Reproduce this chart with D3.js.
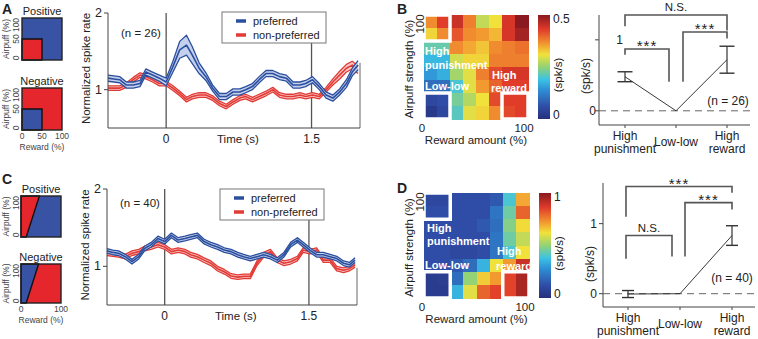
<!DOCTYPE html>
<html>
<head>
<meta charset="utf-8">
<script src="https://cdn.jsdelivr.net/npm/d3@7"></script>
<style>
  body { margin: 0; background: #fff; }
  text { font-family: "Liberation Sans", Arial, sans-serif; fill: #222; }
</style>
</head>
<body>
<svg id="fig" width="758" height="339"></svg>
<script>
// ---- data ----
const time = [-0.6, -0.54, -0.48, -0.41, -0.34, -0.27, -0.21, -0.14, -0.07, 0, 0.07, 0.14, 0.21, 0.27, 0.34, 0.41, 0.48, 0.55, 0.62, 0.69,
  0.76, 0.82, 0.89, 0.96, 1.03, 1.1, 1.17, 1.24, 1.31, 1.38, 1.44, 1.51, 1.58, 1.65, 1.72, 1.79, 1.86, 1.92, 1.98];
const eventTimes = [0, 1.5];

const prefA = [1.15, 1.14, 1.13, 1.06, 1.06, 1.08, 1.23, 1.19, 1.15, 1.10, 1.30, 1.52, 1.58, 1.45, 1.28, 1.17, 1.02, 0.91, 0.91, 0.97,
  0.97, 1.00, 1.04, 1.13, 1.21, 1.21, 1.17, 1.15, 1.06, 1.06, 1.08, 1.13, 1.04, 0.93, 0.89, 0.97, 1.08, 1.23, 1.32];
const prefSemA = [0.04, 0.04, 0.04, 0.04, 0.04, 0.04, 0.04, 0.04, 0.04, 0.05, 0.07, 0.11, 0.13, 0.11, 0.07, 0.05, 0.04, 0.04, 0.04, 0.04,
  0.04, 0.04, 0.04, 0.04, 0.04, 0.04, 0.04, 0.04, 0.04, 0.04, 0.04, 0.04, 0.04, 0.04, 0.04, 0.04, 0.05, 0.05, 0.06];
const nonA = [1.02, 1.02, 1.02, 1.06, 1.13, 1.19, 1.17, 1.13, 1.08, 1.08, 1.02, 0.95, 0.87, 0.91, 0.93, 0.93, 0.89, 0.82, 0.78, 0.84,
  0.89, 0.91, 0.87, 0.91, 0.95, 1.00, 0.93, 0.91, 0.91, 0.93, 0.91, 0.93, 0.91, 1.00, 1.10, 1.19, 1.28, 1.32, 1.26];
const nonSemA = [0.03, 0.03, 0.03, 0.03, 0.03, 0.03, 0.03, 0.03, 0.03, 0.03, 0.03, 0.03, 0.03, 0.03, 0.03, 0.03, 0.03, 0.03, 0.03, 0.03,
  0.03, 0.03, 0.03, 0.03, 0.03, 0.03, 0.03, 0.03, 0.03, 0.03, 0.03, 0.03, 0.03, 0.03, 0.04, 0.05, 0.05, 0.05, 0.05];

const prefC = [1.20, 1.18, 1.17, 1.125, 1.06, 1.125, 1.23, 1.28, 1.36, 1.32, 1.40, 1.34, 1.36, 1.38, 1.40, 1.32, 1.28, 1.25, 1.21, 1.19,
  1.15, 1.125, 1.10, 1.125, 1.15, 1.125, 1.08, 1.15, 1.28, 1.34, 1.28, 1.21, 1.15, 1.15, 1.125, 1.10, 1.04, 1.02, 1.08];
const prefSemC = [0.03, 0.03, 0.03, 0.03, 0.03, 0.03, 0.03, 0.03, 0.03, 0.03, 0.03, 0.03, 0.03, 0.03, 0.03, 0.03, 0.03, 0.03, 0.03, 0.03,
  0.03, 0.03, 0.03, 0.03, 0.03, 0.03, 0.03, 0.03, 0.03, 0.03, 0.03, 0.03, 0.03, 0.03, 0.03, 0.03, 0.03, 0.03, 0.03];
const nonC = [1.17, 1.16, 1.15, 1.125, 1.17, 1.19, 1.23, 1.25, 1.28, 1.25, 1.19, 1.21, 1.19, 1.15, 1.125, 1.08, 1.04, 0.97, 0.93, 0.875,
  0.86, 0.87, 0.87, 1.04, 1.15, 1.19, 1.08, 1.04, 1.06, 1.10, 1.21, 1.19, 1.21, 1.08, 1.08, 0.97, 0.95, 0.97, 1.02];
const nonSemC = [0.03, 0.03, 0.03, 0.03, 0.03, 0.03, 0.03, 0.03, 0.03, 0.03, 0.03, 0.03, 0.03, 0.03, 0.03, 0.03, 0.03, 0.03, 0.03, 0.03,
  0.03, 0.03, 0.03, 0.03, 0.03, 0.03, 0.03, 0.03, 0.03, 0.03, 0.03, 0.03, 0.03, 0.03, 0.03, 0.03, 0.03, 0.03, 0.03];

// heat maps: rows from airpuff 100% (top) to 0% (bottom), columns reward 0 -> 100%
const heatB = [
  [0.37, 0.43, 0.45, 0.38, 0.28, 0.31, 0.44, 0.50],
  [0.32, 0.37, 0.41, 0.37, 0.36, 0.34, 0.44, 0.48],
  [0.22, 0.22, 0.37, 0.35, 0.33, 0.37, 0.38, 0.39],
  [0.18, 0.18, 0.29, 0.32, 0.32, 0.38, 0.38, 0.38],
  [0.15, 0.17, 0.26, 0.30, 0.38, 0.42, 0.44, 0.44],
  [0.10, 0.10, 0.20, 0.30, 0.36, 0.40, 0.43, 0.43],
  [0.05, 0.06, 0.23, 0.27, 0.31, 0.42, 0.43, 0.43],
  [0.02, 0.05, 0.21, 0.30, 0.32, 0.37, 0.42, 0.43]
];
const heatD = [
  [0.10, 0.10, 0.12, 0.12, 0.12, 0.15, 0.40, 0.70],
  [0.12, 0.12, 0.12, 0.12, 0.12, 0.22, 0.45, 0.80],
  [0.12, 0.12, 0.12, 0.12, 0.15, 0.20, 0.48, 0.63],
  [0.12, 0.12, 0.12, 0.12, 0.12, 0.22, 0.45, 0.56],
  [0.12, 0.12, 0.10, 0.10, 0.12, 0.22, 0.40, 0.62],
  [0.12, 0.12, 0.15, 0.20, 0.35, 0.62, 0.72, 0.90],
  [0.05, 0.06, 0.20, 0.50, 0.65, 0.72, 0.85, 0.95],
  [0.05, 0.05, 0.35, 0.60, 0.80, 0.85, 0.85, 0.95]
];

const cats = ["High punishment", "Low-low", "High reward"];
const catLines = [["High", "punishment"], ["Low-low"], ["High", "reward"]];
const meanB = [0.48, 0, 0.72];
const errB = [0.07, 0, 0.19];
const meanD = [-0.005, 0, 0.83];
const errD = [0.05, 0, 0.14];
// brackets: from/to category, horizontal offset in px, top and leg ends in spk/s
const bracketsB = [
  { a: 0, b: 2, da: 0, db: 0, top: 1.35, la: 1.19, lb: 1.13, label: "N.S." },
  { a: 0, b: 1, da: 0, db: -7, top: 0.87, la: 0.79, lb: 0.41, label: "***" },
  { a: 1, b: 2, da: 7, db: 0, top: 1.11, la: 0.41, lb: 1.02, label: "***" }
];
const bracketsD = [
  { a: 0, b: 2, da: -2, db: 0, top: 1.53, la: 1.10, lb: 1.44, label: "***" },
  { a: 1, b: 2, da: 5, db: 0, top: 1.30, la: 0.53, lb: 1.20, label: "***" },
  { a: 0, b: 1, da: -2, db: -8, top: 0.83, la: 0.50, lb: 0.53, label: "N.S." }
];

// ---- drawing ----
const svg = d3.select("#fig");
const BLUE = "#2b4f9e", RED = "#e23a35";
const ICON_BLUE = "#3953a4", ICON_RED = "#e5272d";

function txt(g, x, y, s, size, anchor, extra) {
  const t = g.append("text").attr("x", x).attr("y", y).text(s)
    .style("font-size", size + "px").attr("text-anchor", anchor || "start");
  if (extra) extra(t);
  return t;
}
function vtxt(g, cx, cy, s, size) {
  // rotated label centred on (cx, cy)
  return g.append("text")
    .attr("transform", "translate(" + (cx + size * 0.35) + "," + cy + ") rotate(-90)")
    .attr("text-anchor", "middle").style("font-size", size + "px").text(s);
}

// panel letters
[["A", 2, 14], ["B", 397, 14], ["C", 2, 184], ["D", 397, 193]].forEach(p => {
  txt(svg, p[1], p[2], p[0], 14, "start", t => t.style("font-weight", "bold"));
});

// ---- small task icons ----
function drawIcon(cfg) {
  const g = svg.append("g");
  const x = d3.scaleLinear().domain([0, 100]).range([cfg.x0, cfg.x1]);
  const y = d3.scaleLinear().domain([0, 100]).range([cfg.y1, cfg.y0]);
  g.append("rect").attr("x", x(0)).attr("y", y(100)).attr("width", x(100) - x(0)).attr("height", y(0) - y(100))
    .attr("fill", cfg.bg);
  g.append("polygon").attr("points", cfg.poly.map(p => x(p[0]) + "," + y(p[1])).join(" "))
    .attr("fill", cfg.fg).attr("stroke", "#111").attr("stroke-width", 1.4);
  g.append("rect").attr("x", x(0)).attr("y", y(100)).attr("width", x(100) - x(0)).attr("height", y(0) - y(100))
    .attr("fill", "none").attr("stroke", "#222").attr("stroke-width", 1.4);
  txt(g, (x(0) + x(100)) / 2, y(100) - 3, cfg.title, 11, "middle");
  cfg.yTicks.forEach(v => {
    const cy = v === 100 ? y(v) + 7 : v === 0 ? y(v) - 2 : y(v);
    vtxt(g, 16, cy, String(v), 8.5).style("fill", "#444");
  });
  vtxt(g, 6, (y(0) + y(100)) / 2, "Airpuff (%)", 8.5).style("fill", "#444");
  if (cfg.xTicks) {
    cfg.xTicks.forEach(v => txt(g, x(v), y(0) + 8.5, String(v), 8.5, "middle", t => t.style("fill", "#444")));
    txt(g, (x(0) + x(100)) / 2, y(0) + 20, "Reward (%)", 8.5, "middle", t => t.style("fill", "#444"));
  }
}
const squareLow = [[0, 0], [50, 0], [50, 50], [0, 50]];
const slantPos = [[0, 0], [13, 0], [46, 100], [0, 100]];
const slantNeg = [[0, 0], [13, 0], [44, 100], [0, 100]];
drawIcon({ x0: 22, x1: 62, y0: 18, y1: 60, bg: ICON_BLUE, fg: ICON_RED, poly: squareLow, title: "Positive", yTicks: [0, 50, 100] });
drawIcon({ x0: 22, x1: 62, y0: 88, y1: 130, bg: ICON_RED, fg: ICON_BLUE, poly: squareLow, title: "Negative", yTicks: [0, 50, 100], xTicks: [0, 50, 100] });
drawIcon({ x0: 21, x1: 61, y0: 196, y1: 237, bg: ICON_BLUE, fg: ICON_RED, poly: slantPos, title: "Positive", yTicks: [0, 100] });
drawIcon({ x0: 21, x1: 61, y0: 264, y1: 303, bg: ICON_RED, fg: ICON_BLUE, poly: slantNeg, title: "Negative", yTicks: [0, 100], xTicks: [0, 100] });

// ---- population traces ----
function drawTrace(cfg) {
  const g = svg.append("g");
  const x = d3.scaleLinear().domain([-0.6, 2.0]).range([cfg.left, cfg.right]);
  const y = d3.scaleLinear().domain([0.5, 2]).range([cfg.bottom, cfg.top]);

  g.selectAll(".ev").data(eventTimes).enter().append("line")
    .attr("x1", d => x(d)).attr("x2", d => x(d)).attr("y1", y(2)).attr("y2", y(0.5))
    .attr("stroke", "#555").attr("stroke-width", 1.3);
  // right frame piece
  g.append("line").attr("x1", x(2)).attr("x2", x(2)).attr("y1", y(cfg.rightTop)).attr("y2", y(0.5))
    .attr("stroke", "#666").attr("stroke-width", 1);

  cfg.series.forEach(s => {
    const pts = time.map((t, i) => ({ t: t, m: s.mean[i], e: s.sem[i] }));
    g.append("path").datum(pts)
      .attr("d", d3.area().x(d => x(d.t)).y0(d => y(d.m - d.e)).y1(d => y(d.m + d.e)))
      .attr("fill", s.light);
    [-1, 0, 1].forEach(k => {
      g.append("path").datum(pts)
        .attr("d", d3.line().x(d => x(d.t)).y(d => y(d.m + k * d.e)))
        .attr("fill", "none").attr("stroke", s.color).attr("stroke-width", k === 0 ? 1.6 : 1.3)
        .attr("stroke-linejoin", "round");
    });
  });

  // axes
  g.append("line").attr("x1", x(-0.6)).attr("x2", x(-0.6)).attr("y1", y(2)).attr("y2", y(0.5)).attr("stroke", "#444");
  g.append("line").attr("x1", x(-0.6)).attr("x2", x(2)).attr("y1", y(0.5)).attr("y2", y(0.5)).attr("stroke", "#444");
  [1, 2].forEach(v => {
    g.append("line").attr("x1", x(-0.6) - 4).attr("x2", x(-0.6)).attr("y1", y(v)).attr("y2", y(v)).attr("stroke", "#444");
    txt(g, x(-0.6) - 6, y(v) + 4, String(v), 12.5, "end");
  });
  [0, 1.5].forEach(v => txt(g, x(v), y(0.5) + 15, String(v), 12, "middle"));
  txt(g, x(0.74), y(0.5) + 15, "Time (s)", 11.5, "middle");
  vtxt(g, cfg.left - 22, (y(2) + y(0.5)) / 2 - 2, "Normalized spike rate", 11.5);
  txt(g, cfg.left + 13, cfg.nY, cfg.nLabel, 11.5, "start");

  // legend
  const lg = g.append("g").attr("transform", "translate(" + cfg.legX + "," + cfg.legY + ")");
  lg.append("rect").attr("width", 104).attr("height", 31).attr("fill", "#fff").attr("stroke", "#777");
  cfg.series.slice().reverse().forEach((s, i) => {
    lg.append("line").attr("x1", 14).attr("x2", 24).attr("y1", 9 + i * 14).attr("y2", 9 + i * 14)
      .attr("stroke", s.color).attr("stroke-width", 3.5);
    txt(lg, 31, 13 + i * 14, s.name, 11, "start");
  });
}
drawTrace({
  left: 108, right: 360, top: 13, bottom: 128, rightTop: 1.35,
  nLabel: "(n = 26)", nY: 37, legX: 222, legY: 12,
  series: [
    { name: "non-preferred", mean: nonA, sem: nonSemA, color: RED, light: "#f6c9c7" },
    { name: "preferred", mean: prefA, sem: prefSemA, color: BLUE, light: "#c5d0ec" }
  ]
});
drawTrace({
  left: 107, right: 357, top: 189, bottom: 305, rightTop: 0.98,
  nLabel: "(n = 40)", nY: 207, legX: 220, legY: 189,
  series: [
    { name: "non-preferred", mean: nonC, sem: nonSemC, color: RED, light: "#f6c9c7" },
    { name: "preferred", mean: prefC, sem: prefSemC, color: BLUE, light: "#c5d0ec" }
  ]
});

// ---- heat maps ----
const jetStops = ["#27307c", "#2f4da6", "#2e8fd4", "#3cc2e4", "#93d275", "#f1e23b", "#f29a30", "#e13b2a", "#8a1a1f"];
const jetPos = [0, 0.12, 0.28, 0.38, 0.5, 0.62, 0.72, 0.86, 1];

function drawHeat(cfg) {
  const g = svg.append("g");
  const n = cfg.data.length;
  const x = d3.scaleBand().domain(d3.range(n)).range([cfg.x, cfg.x + cfg.size]);
  const y = d3.scaleBand().domain(d3.range(n)).range([cfg.y, cfg.y + cfg.size]);
  const color = d3.scaleLinear().domain(jetPos.map(p => p * cfg.max)).range(jetStops).clamp(true);
  const cells = [];
  cfg.data.forEach((row, r) => row.forEach((v, c) => cells.push({ r, c, v })));
  g.selectAll("rect.cell").data(cells).enter().append("rect")
    .attr("x", d => x(d.c)).attr("y", d => y(d.r))
    .attr("width", x.bandwidth() + 0.5).attr("height", y.bandwidth() + 0.5)
    .attr("fill", d => color(d.v)).attr("shape-rendering", "crispEdges");
  // white outlines round the corner blocks
  [[0, 0], [0, 6], [6, 6]].forEach(b => {
    g.append("rect").attr("x", x(b[0])).attr("y", y(b[1]))
      .attr("width", 2 * x.bandwidth()).attr("height", 2 * y.bandwidth())
      .attr("fill", "none").attr("stroke", "#fff").attr("stroke-width", 3.5);
  });
  cfg.labels.forEach(l => txt(g, cfg.x + l[1], cfg.y + l[2], l[0], 11, l[3] || "start",
    t => t.style("fill", "#fff").style("font-weight", "bold")));

  // axis text
  txt(g, cfg.x - 2, cfg.y + cfg.size + 13, "0", 11.5, "middle");
  txt(g, cfg.x + cfg.size - 4, cfg.y + cfg.size + 13, "100", 11.5, "middle");
  txt(g, cfg.x + cfg.size / 2, cfg.y + cfg.size + 25, "Reward amount (%)", 11.5, "middle");
  vtxt(g, cfg.x - 4, cfg.y + 9, "100", 11.5);
  vtxt(g, cfg.x - 15, cfg.y + cfg.size / 2 + 2, "Airpuff strength (%)", 11.5);

  // colour bar
  const id = "grad" + cfg.id;
  const grad = svg.append("defs").append("linearGradient").attr("id", id)
    .attr("x1", 0).attr("y1", 1).attr("x2", 0).attr("y2", 0);
  jetPos.forEach((p, i) => grad.append("stop").attr("offset", p).attr("stop-color", jetStops[i]));
  const cb = d3.scaleLinear().domain([0, cfg.max]).range([cfg.y + cfg.size, cfg.y]);
  g.append("rect").attr("x", cfg.x + cfg.size + 10).attr("y", cb(cfg.max)).attr("width", 12)
    .attr("height", cb(0) - cb(cfg.max)).attr("fill", "url(#" + id + ")");
  [0, cfg.max].forEach(v => txt(g, cfg.x + cfg.size + 25, cb(v) + (v === 0 ? 0 : 8), String(v), 12, "start"));
  vtxt(g, cfg.x + cfg.size + 30, cfg.y + cfg.size / 2 + 8, "(spk/s)", 11.5);
}
drawHeat({
  id: "B", data: heatB, max: 0.5, x: 424, y: 15, size: 104,
  labels: [["High", 1, 40], ["punishment", 1, 54], ["Low-low", 1, 75], ["High", 68, 64], ["reward", 67, 77]]
});
drawHeat({
  id: "D", data: heatD, max: 1, x: 424, y: 193, size: 105,
  labels: [["High", 3, 39], ["punishment", 3, 52], ["Low-low", 1, 76], ["High", 73, 62], ["reward", 72, 77]]
});

// ---- category summaries ----
function drawSummary(cfg) {
  const g = svg.append("g");
  const x = d3.scalePoint().domain(d3.range(cats.length)).range([cfg.xa, cfg.xb]);
  const y = d3.scaleLinear().domain(cfg.yDomain).range([cfg.bottom, cfg.top]);
  const y0 = cfg.yDomain[0];

  g.append("line").attr("x1", cfg.left).attr("x2", cfg.left).attr("y1", y(cfg.yDomain[1])).attr("y2", y(y0)).attr("stroke", "#444");
  g.append("line").attr("x1", cfg.left).attr("x2", cfg.right).attr("y1", y(y0)).attr("y2", y(y0)).attr("stroke", "#444");
  g.append("line").attr("x1", cfg.left).attr("x2", cfg.right).attr("y1", y(0)).attr("y2", y(0))
    .attr("stroke", "#666").attr("stroke-dasharray", "7,5");
  [0, 1].forEach(v => {
    g.append("line").attr("x1", cfg.left - 4).attr("x2", cfg.left).attr("y1", y(v)).attr("y2", y(v)).attr("stroke", "#444");
    txt(g, cfg.tickX[v], y(v) + 4, String(v), 12, "end");
  });
  cats.forEach((c, i) => {
    g.append("line").attr("x1", x(i)).attr("x2", x(i)).attr("y1", y(y0)).attr("y2", y(y0) + 3).attr("stroke", "#444");
    catLines[i].forEach((s, k) => {
      const yy = catLines[i].length === 1 ? y(y0) + 21 : y(y0) + 15 + k * 13;
      txt(g, x(i), yy, s, 12, "middle");
    });
  });
  vtxt(g, cfg.left - 13, cfg.labY, "(spk/s)", 12);

  // mean line
  g.append("path").datum(cfg.mean)
    .attr("d", d3.line().x((d, i) => x(i)).y(d => y(d)))
    .attr("fill", "none").attr("stroke", "#222").attr("stroke-width", 0.9);
  // error bars
  cfg.mean.forEach((m, i) => {
    const e = cfg.err[i];
    if (!e) return;
    g.append("line").attr("x1", x(i)).attr("x2", x(i)).attr("y1", y(m - e)).attr("y2", y(m + e)).attr("stroke", "#333").attr("stroke-width", 1.2);
    [m - e, m + e].forEach(v => g.append("line").attr("x1", x(i) - cfg.cap).attr("x2", x(i) + cfg.cap)
      .attr("y1", y(v)).attr("y2", y(v)).attr("stroke", "#333").attr("stroke-width", 1.4));
  });
  // significance brackets
  cfg.brackets.forEach(b => {
    const xa = x(b.a) + b.da, xb = x(b.b) + b.db;
    g.append("path")
      .attr("d", "M" + xa + "," + y(b.la) + "V" + y(b.top) + "H" + xb + "V" + y(b.lb))
      .attr("fill", "none").attr("stroke", "#555").attr("stroke-width", 1.6);
    if (b.label === "N.S.") txt(g, (xa + xb) / 2, y(b.top) - 4, b.label, 11.5, "middle");
    else txt(g, (xa + xb) / 2, y(b.top) + 2, b.label, 15, "middle", t => t.style("letter-spacing", "1px"));
  });
  txt(g, cfg.nX, cfg.nY, cfg.nLabel, 12, "middle");
}
drawSummary({
  left: 599, right: 750, xa: 625, xb: 727, top: 15, bottom: 125, yDomain: [-0.2, 1.35],
  mean: meanB, err: errB, cap: 7.5, brackets: bracketsB, tickX: [596, 623], labY: 76,
  nLabel: "(n = 26)", nX: 728, nY: 105
});
drawSummary({
  left: 603, right: 755, xa: 628, xb: 732, top: 183, bottom: 307, yDomain: [-0.19, 1.58],
  mean: meanD, err: errD, cap: 6, brackets: bracketsD, tickX: [597, 597], labY: 264,
  nLabel: "(n = 40)", nX: 732, nY: 282
});
</script>
</body>
</html>
